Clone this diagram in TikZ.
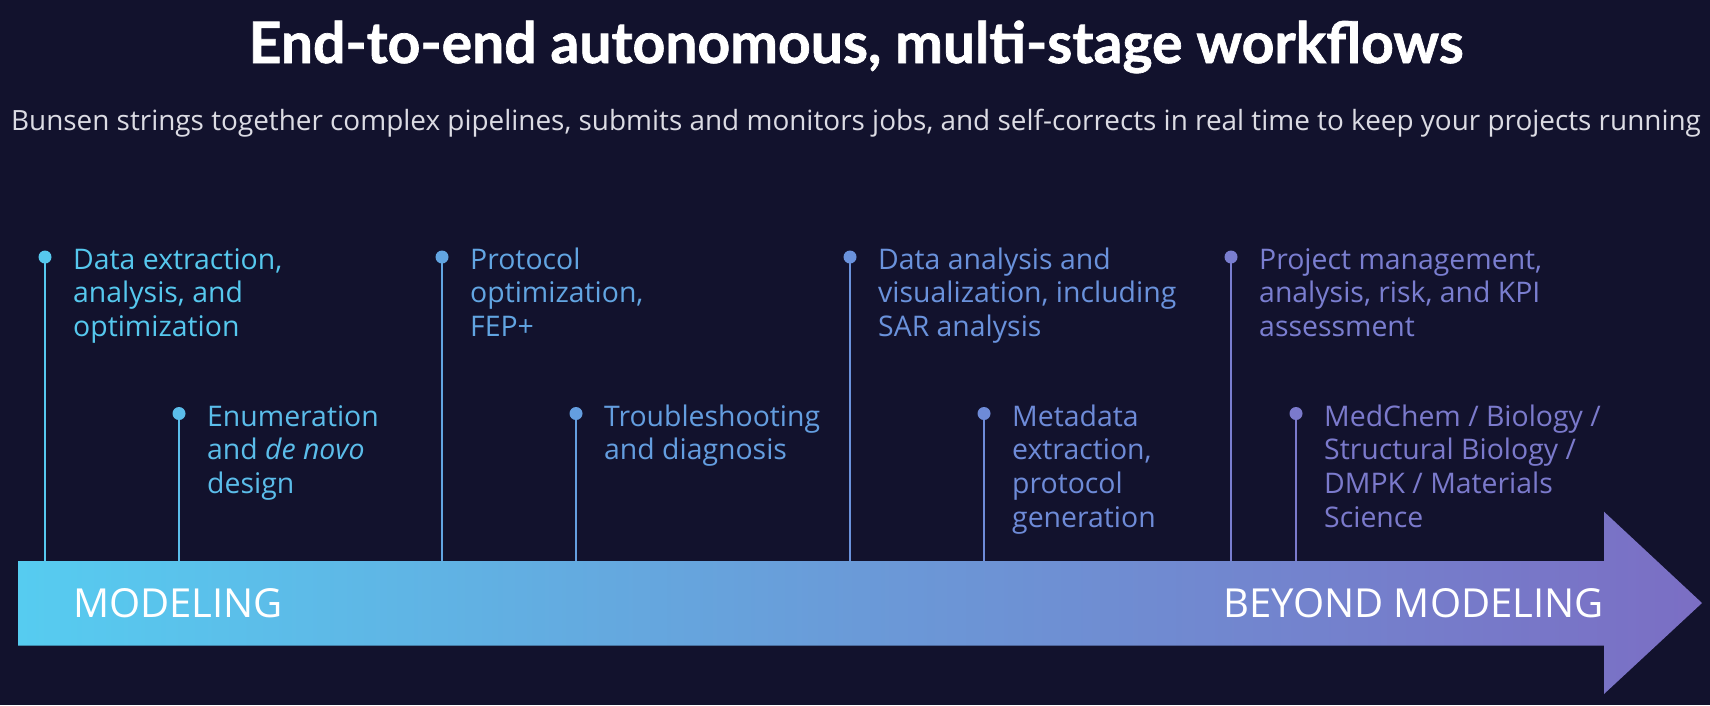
\documentclass[tikz,border=0pt]{standalone}
\usepackage{fontspec}
\setmainfont{Open Sans}
\newfontfamily\titlefont{Lato}[BoldFeatures={FakeBold=1.2}]
\definecolor{bg}{HTML}{12122D}
\definecolor{subt}{HTML}{DCDCE4}
\definecolor{cA}{HTML}{56C8EE}
\definecolor{cB}{HTML}{5BBDEA}
\definecolor{cC}{HTML}{62A5E2}
\definecolor{cD}{HTML}{649EE0}
\definecolor{cE}{HTML}{6A92DC}
\definecolor{cF}{HTML}{6E8BD8}
\definecolor{cG}{HTML}{7A7ED0}
\definecolor{cH}{HTML}{7B7ACC}
\definecolor{arL}{HTML}{56CCF0}
\definecolor{arM}{HTML}{6A9AD8}
\definecolor{arR}{HTML}{7B6EC4}
\tikzset{
  lbl/.style={anchor=base west, inner sep=0pt, align=left, font=\fontsize{28.4}{33.8}\selectfont},
  dotnode/.style={circle, fill, inner sep=0pt, minimum size=13pt},
  stem/.style={line width=2pt},
  bigtxt/.style={text=white, inner sep=0pt, font=\fontsize{40}{48}\selectfont}
}
\begin{document}
\begin{tikzpicture}[x=1pt,y=-1pt]
\fill[bg] (0,0) rectangle (1710,705);
\useasboundingbox (0,0) rectangle (1710,705);
% title
\node[anchor=base, inner sep=0pt, text=white, font=\titlefont\bfseries\fontsize{57}{64}\selectfont] (title) at (856,63) {End-to-end autonomous, multi-stage workflows};
\node[anchor=base, inner sep=0pt, text=subt, font=\fontsize{27.9}{32}\selectfont] (sub) at (856,130) {Bunsen strings together complex pipelines, submits and monitors jobs, and self-corrects in real time to keep your projects running};
% arrow
\path[left color=arL, right color=arR, middle color=arM]
  (18,561) -- (1604,561) -- (1604,511.7) -- (1702,603) -- (1604,694) -- (1604,645.7) -- (18,645.7) -- cycle;
\node[bigtxt, anchor=base west] (model) at (73,617) {MODELING};
\node[bigtxt, anchor=base east] (beyond) at (1604,617) {BEYOND MODELING};
% milestones
\foreach \n/\x/\y/\c in {1/45/257/cA, 2/179/413.5/cB, 3/442/257/cC, 4/576/413.5/cD, 5/850/257/cE, 6/984/413.5/cF, 7/1231/257/cG, 8/1296/413.5/cH}{
  \node[dotnode, fill=\c] (d\n) at (\x,\y) {};
  \coordinate (b\n) at (\x,561);
  \draw[stem, draw=\c] (d\n.center) -- (b\n);
}
% anchors are at the baseline of the last line
\node[lbl, text=cA] (t1) at (73,336.6) {Data extraction,\\analysis, and\\optimization};
\node[lbl, text=cB] (t2) at (207,493.6) {Enumeration\\and \textit{de novo}\\design};
\node[lbl, text=cC] (t3) at (470,336.6) {Protocol\\optimization,\\FEP+};
\node[lbl, text=cD] (t4) at (604,459.8) {Troubleshooting\\and diagnosis};
\node[lbl, text=cE] (t5) at (878,336.6) {Data analysis and\\visualization, including\\SAR analysis};
\node[lbl, text=cF] (t6) at (1012,527.4) {Metadata\\extraction,\\protocol\\generation};
\node[lbl, text=cG] (t7) at (1259,336.6) {Project management,\\analysis, risk, and KPI\\assessment};
\node[lbl, text=cH] (t8) at (1324,527.4) {MedChem / Biology /\\Structural Biology /\\DMPK / Materials\\Science};
\end{tikzpicture}
\end{document}
